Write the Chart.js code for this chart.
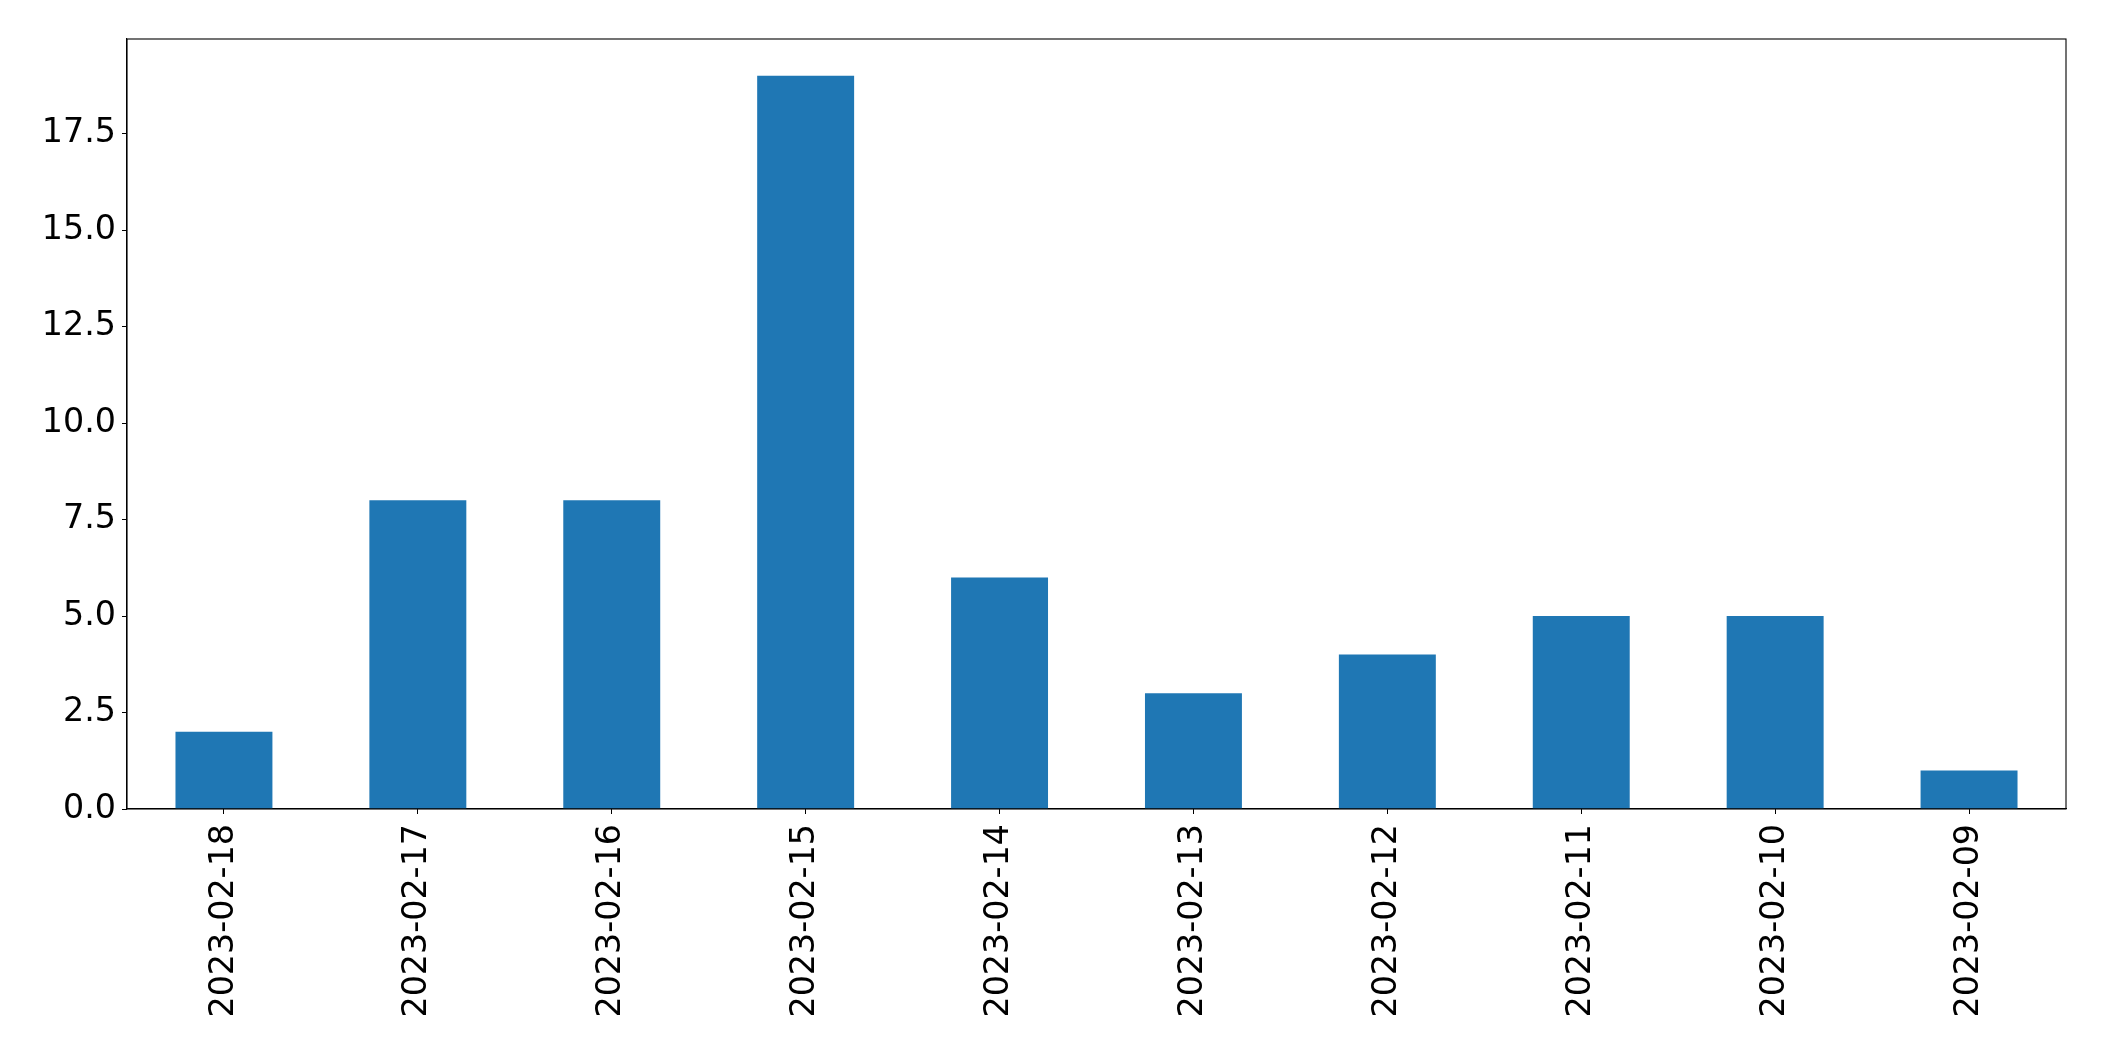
<!DOCTYPE html>
<html>
<head>
<meta charset="utf-8">
<script src="https://cdn.jsdelivr.net/npm/chart.js@4/dist/chart.umd.min.js"></script>
<style>
  html, body { margin: 0; padding: 0; background: #ffffff; }
  canvas { display: block; }
</style>
</head>
<body>
<canvas id="c" width="2104" height="1061"></canvas>
<script>
const categories = ["2023-02-18","2023-02-17","2023-02-16","2023-02-15","2023-02-14","2023-02-13","2023-02-12","2023-02-11","2023-02-10","2023-02-09"];
const values = [2, 8, 8, 19, 6, 3, 4, 5, 5, 1];
const yTicks = [0, 2.5, 5, 7.5, 10, 12.5, 15, 17.5];
const yMax = 19.95;

const frame = {
  id: 'frame',
  afterDraw(chart) {
    const a = chart.chartArea, ctx = chart.ctx;
    ctx.save();
    ctx.strokeStyle = '#000';
    ctx.lineWidth = 1.1;
    ctx.strokeRect(a.left, a.top, a.right - a.left, a.bottom - a.top);
    ctx.restore();
  }
};

new Chart(document.getElementById('c'), {
  type: 'bar',
  data: {
    labels: categories,
    datasets: [{
      data: values,
      backgroundColor: '#1f77b4',
      borderWidth: 0,
      categoryPercentage: 1.0,
      barPercentage: 0.5
    }]
  },
  options: {
    responsive: false,
    animation: false,
    devicePixelRatio: 1,
    layout: { padding: { top: 39, right: 38, left: 0, bottom: 0 } },
    plugins: { legend: { display: false }, tooltip: { enabled: false } },
    scales: {
      x: {
        offset: true,
        grid: { display: true, offset: false, drawOnChartArea: false, drawTicks: true, tickLength: 5, color: '#000', tickColor: '#000' },
        border: { display: true, color: '#000', width: 1.1 },
        ticks: {
          autoSkip: false,
          maxRotation: 90,
          minRotation: 90,
          padding: 10,
          color: '#000',
          font: { family: 'DejaVu Sans', size: 33.3 }
        },
        afterFit(scale) { scale.height = 252; }
      },
      y: {
        min: 0,
        max: yMax,
        grid: { display: true, drawOnChartArea: false, drawTicks: true, tickLength: 5, color: '#000', tickColor: '#000' },
        border: { display: true, color: '#000', width: 1.1 },
        afterBuildTicks(scale) { scale.ticks = yTicks.map(v => ({ value: v })); },
        ticks: {
          padding: 6,
          color: '#000',
          font: { family: 'DejaVu Sans', size: 33.3 },
          callback: v => Number(v).toFixed(1)
        },
        afterFit(scale) { scale.width = 127; }
      }
    }
  },
  plugins: [frame]
});
</script>
</body>
</html>
